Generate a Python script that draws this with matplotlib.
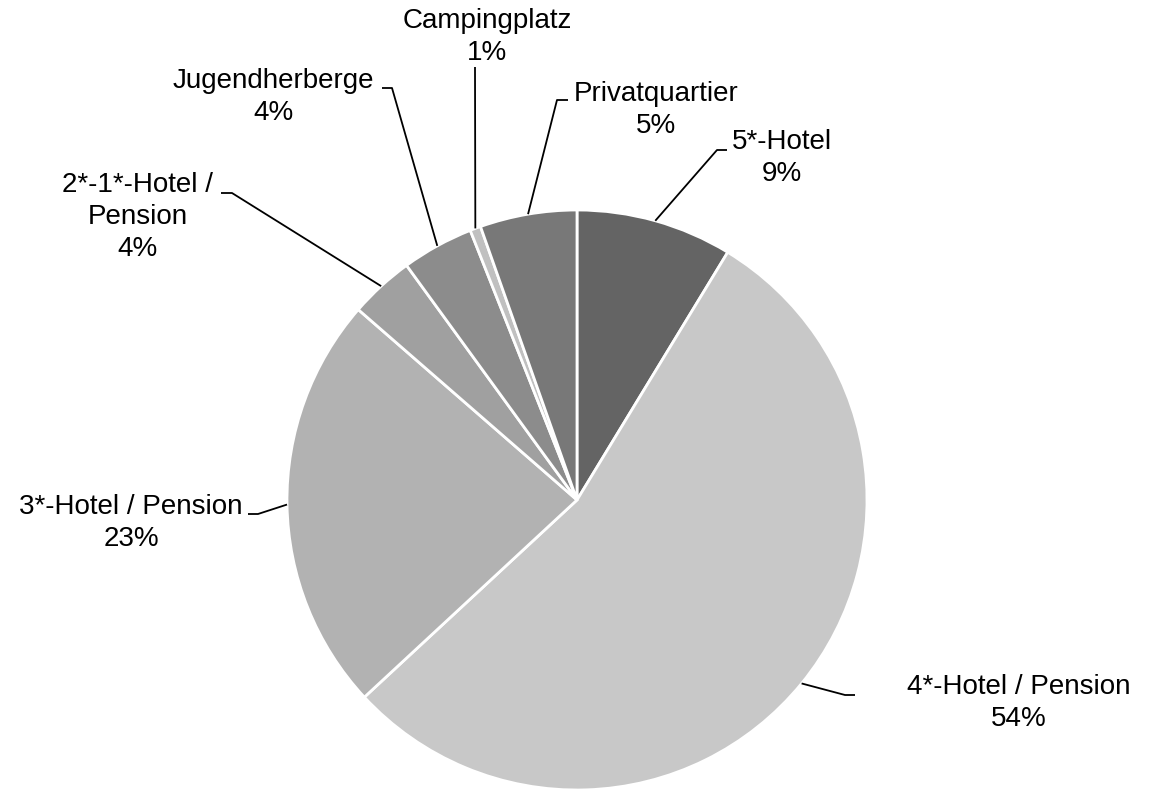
import numpy as np
import matplotlib
matplotlib.use('Agg')
import matplotlib.pyplot as plt

plt.rcParams['font.family'] = ['Liberation Sans', 'DejaVu Sans']

# Slices in clockwise order starting at 12 o'clock.
categories = ['5*-Hotel', '4*-Hotel / Pension', '3*-Hotel / Pension',
              '2*-1*-Hotel /\nPension', 'Jugendherberge', 'Campingplatz',
              'Privatquartier']
shares = [8.7, 54.4, 23.3, 3.6, 4.0, 0.6, 5.4]
colors = ['#646464', '#c8c8c8', '#b2b2b2', '#a0a0a0', '#8c8c8c', '#c0c0c0', '#787878']

W, H = 1150, 790


def P(x, y):
    # pixel position (top-left origin) -> data coords
    return (x, H - y)


# Label layout in pixels: text block centre, elbow of leader, end of leader.
label_pos = [(782, 158), (1019, 703), (131, 523), (138, 217), (273, 97), (487, 37), (656, 110)]
elbows = [(717, 150), (845, 695), (258, 514), (232, 193), (392, 88), (475, 67), (557, 100)]
ends = [(727, 150), (855, 695), (248, 514), (221, 193), (382, 88), (475, 67), (568, 100)]

fig = plt.figure(figsize=(W / 100, H / 100), dpi=100)
ax = fig.add_axes((0, 0, 1, 1))

cx, cy = P(577, 500)
r = 290
wedges, _ = ax.pie(shares, colors=colors, startangle=90, counterclock=False,
                   center=(cx, cy), radius=r,
                   wedgeprops=dict(edgecolor='white', linewidth=2))
ax.set_xlim(0, W)
ax.set_ylim(0, H)
ax.set_aspect('equal')
ax.axis('off')

for w, name, v, lp, el, en in zip(wedges, categories, shares, label_pos, elbows, ends):
    mid = np.deg2rad((w.theta1 + w.theta2) / 2)
    ax_, ay_ = cx + r * np.cos(mid), cy + r * np.sin(mid)
    xs = [ax_, P(*el)[0], P(*en)[0]]
    ys = [ay_, P(*el)[1], P(*en)[1]]
    ax.plot(xs, ys, color='black', lw=1.3, solid_capstyle='butt')
    ax.text(*P(*lp), f'{name}\n{v:.0f}%', ha='center', va='center',
            fontsize=20, color='black', linespacing=1.28)

plt.savefig('out.png', dpi=100, facecolor='white')
